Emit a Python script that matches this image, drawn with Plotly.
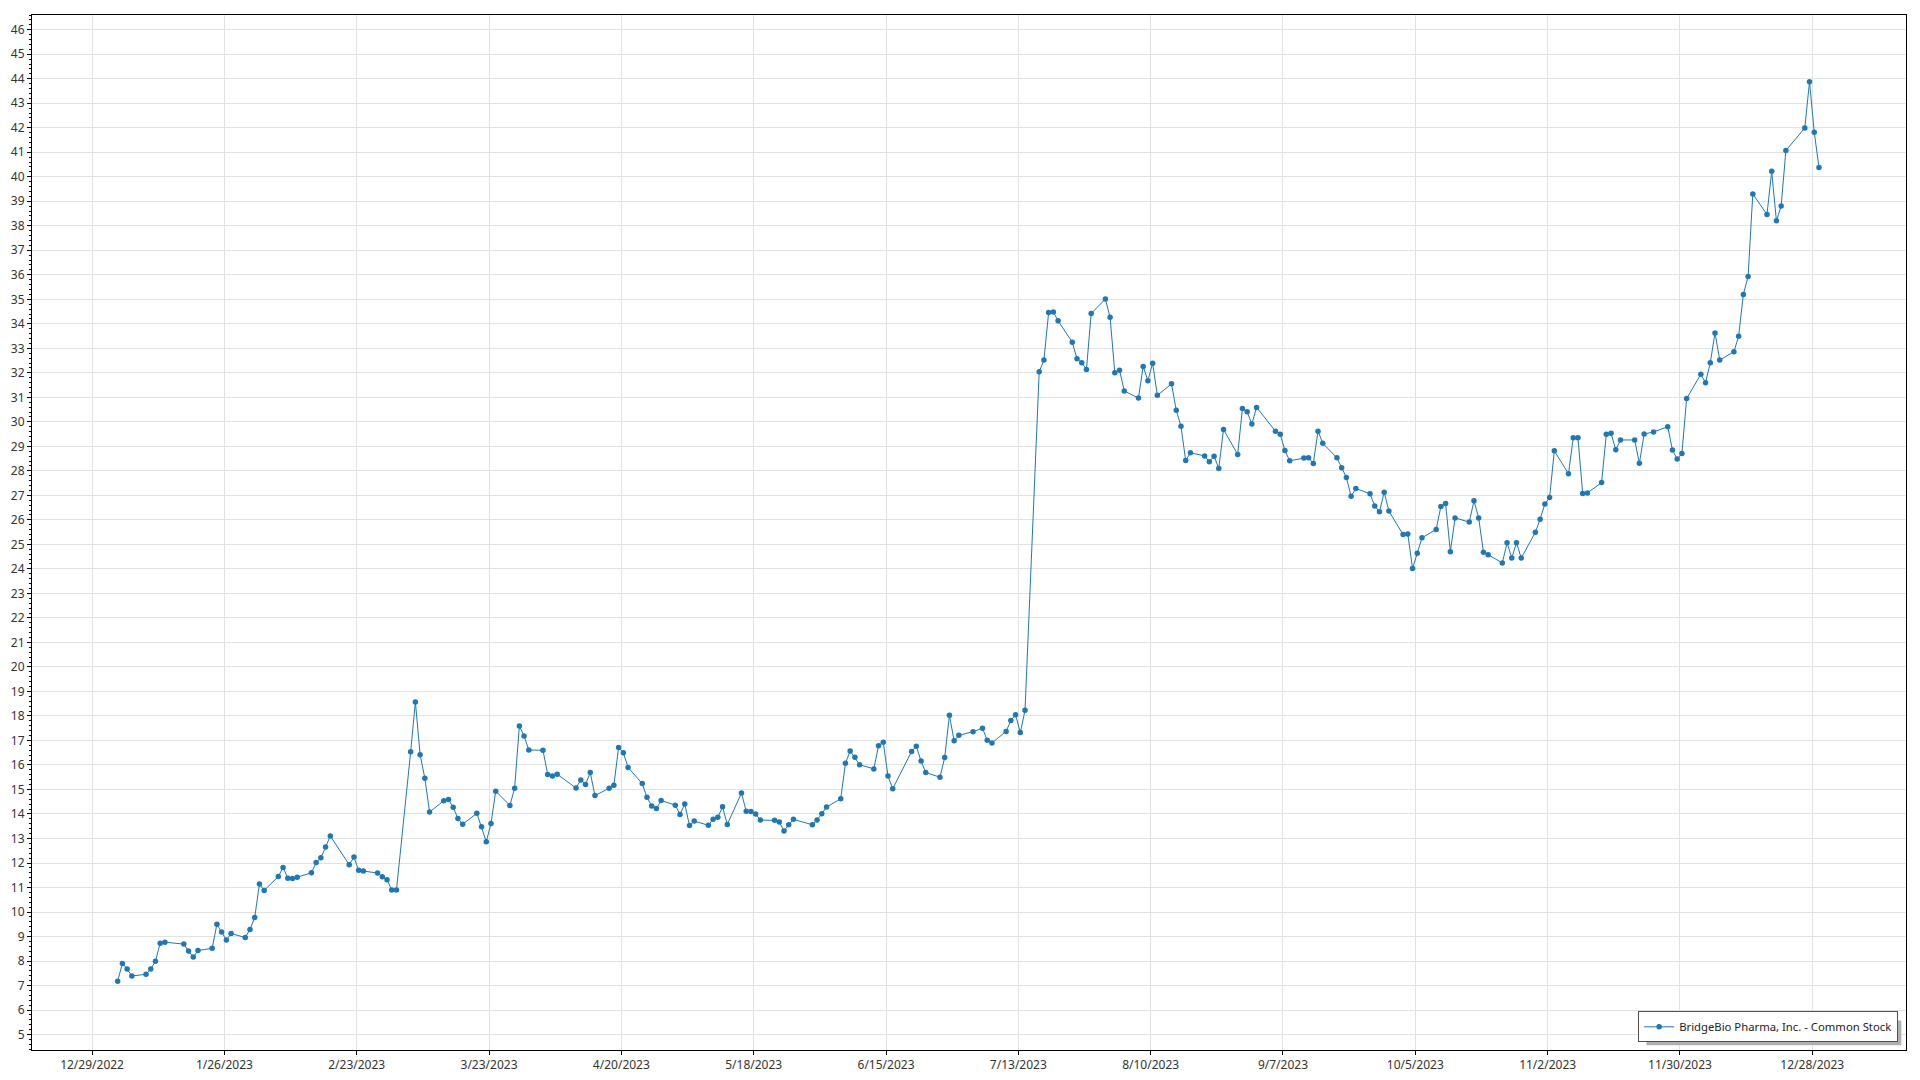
import pandas as pd
import plotly.graph_objects as go

# Trading-day calendar (NYSE 2023)
holidays_2023 = ["2023-01-02", "2023-01-16", "2023-02-20", "2023-04-07", "2023-05-29",
                 "2023-06-19", "2023-07-04", "2023-09-04", "2023-11-23", "2023-12-25"]
trading_days = pd.bdate_range("2023-01-03", "2023-12-29", freq="C", holidays=holidays_2023)

jan = [7.18, 7.90, 7.68, 7.39, 7.46, 7.67, 7.99, 8.73, 8.77, 8.69, 8.41, 8.16, 8.43, 8.52, 9.50,
       9.18, 8.86, 9.12, 8.96, 9.29]
feb = [9.78, 11.14, 10.88, 11.45, 11.82, 11.38, 11.37, 11.42, 11.60, 12.02, 12.21, 12.65, 13.10,
       11.93, 12.24, 11.70, 11.67, 11.59, 11.44]
mar = [11.32, 10.90, 10.90, 16.54, 18.57, 16.42, 15.46, 14.08, 14.54, 14.59, 14.27, 13.82, 13.58,
       14.03, 13.48, 12.87, 13.61, 14.93, 14.35, 15.05, 17.59, 17.18, 16.61]
apr = [16.60, 15.61, 15.55, 15.62, 15.06, 15.39, 15.20, 15.69, 14.75, 15.05, 15.17, 16.71, 16.50,
       15.90, 15.24, 14.68, 14.33, 14.22, 14.55]
may = [14.36, 13.98, 14.41, 13.53, 13.71, 13.54, 13.79, 13.87, 14.29, 13.57, 14.86, 14.11, 14.10,
       14.00, 13.75, 13.74, 13.67, 13.31, 13.56, 13.78, 13.56, 13.75]
jun = [14.01, 14.28, 14.62, 16.07, 16.57, 16.31, 16.01, 15.84, 16.78, 16.93, 15.55, 15.03, 16.55,
       16.76, 16.16, 15.69, 15.50, 16.30, 18.03, 16.99, 17.21]
jul = [17.36, 17.50, 17.01, 16.90, 17.37, 17.81, 18.05, 17.32, 18.23, 32.04, 32.52, 34.46, 34.48,
       34.12, 33.25, 32.57, 32.41, 32.14, 34.42, 35.01]
aug = [34.27, 32.00, 32.11, 31.26, 30.97, 32.26, 31.68, 32.39, 31.08, 31.55, 30.47, 29.82, 28.42,
       28.74, 28.61, 28.37, 28.60, 28.10, 29.69, 28.67, 30.54, 30.41, 29.91]
sep = [30.59, 29.62, 29.49, 28.83, 28.41, 28.52, 28.54, 28.30, 29.62, 29.13, 28.53, 28.13, 27.73,
       26.96, 27.28, 27.07, 26.57, 26.33, 27.13, 26.36]
oct_ = [25.40, 25.42, 24.02, 24.64, 25.27, 25.61, 26.55, 26.67, 24.70, 26.08, 25.91, 26.78, 26.08,
        24.68, 24.58, 24.24, 25.07, 24.44, 25.07, 24.44, 25.50, 26.03]
nov = [26.65, 26.91, 28.82, 27.88, 29.35, 29.35, 27.08, 27.10, 27.52, 29.49, 29.53, 28.86, 29.26,
       29.26, 28.31, 29.50, 29.59, 29.80, 28.85, 28.48, 28.71]
dec = [30.95, 31.94, 31.60, 32.41, 33.63, 32.52, 32.86, 33.49, 35.20, 35.93, 39.30, 38.46, 40.22,
       38.20, 38.81, 41.07, 41.99, 43.88, 41.82, 40.38]

closes = jan + feb + mar + apr + may + jun + jul + aug + sep + oct_ + nov + dec
series_name = "BridgeBio Pharma, Inc. - Common Stock"

x_dates = trading_days + pd.Timedelta(hours=10)

FONT = "Segoe UI, Noto Sans, Open Sans, sans-serif"
BLUE = "#1f77b4"

fig = go.Figure()
fig.add_trace(go.Scatter(
    x=x_dates, y=closes, name=series_name, mode="lines+markers",
    line=dict(color=BLUE, width=1),
    marker=dict(color=BLUE, size=5.5),
    showlegend=True,
))

# soft drop shadow behind the legend box
fig.add_shape(type="rect", xref="paper", yref="paper",
              x0=0.8615, x1=0.9975, y0=0.0045, y1=0.0285,
              fillcolor="#b0b0b0", line=dict(width=0), layer="above")

# page body adds an 8px offset, so the figure is sized/margined to compensate
fig.update_layout(
    width=1912, height=1072,
    margin=dict(l=24, r=14, t=7, b=30, autoexpand=False),
    paper_bgcolor="white", plot_bgcolor="white",
    font=dict(family=FONT, size=12, color="#333333"),
    showlegend=True,
    legend=dict(
        x=0.9958, y=0.0074, xanchor="right", yanchor="bottom",
        bgcolor="white", bordercolor="#505050", borderwidth=1,
        font=dict(family=FONT, size=11.3, color="#222222"),
        itemwidth=30,
    ),
    xaxis=dict(
        type="date", automargin=False,
        range=["2022-12-16 07:00", "2024-01-16 20:00"],
        tick0="2022-12-29", dtick=28 * 86400000,
        tickformat="%-m/%-d/%Y",
        showgrid=True, gridcolor="#e2e2e2", gridwidth=1,
        showline=True, linecolor="black", linewidth=1, mirror=True,
        ticks="outside", ticklen=4, tickcolor="black",
        zeroline=False,
        tickfont=dict(family=FONT, size=12, color="#333333"),
    ),
    yaxis=dict(
        automargin=False,
        range=[4.37, 46.6],
        tick0=0, dtick=1,
        showgrid=True, gridcolor="#e2e2e2", gridwidth=1,
        showline=True, linecolor="black", linewidth=1, mirror=True,
        ticks="outside", ticklen=4, tickcolor="black",
        minor=dict(ticks="outside", ticklen=2, dtick=0.2, tickcolor="black", showgrid=False),
        zeroline=False,
        tickfont=dict(family=FONT, size=12, color="#333333"),
    ),
)

fig.write_html("out.html")
